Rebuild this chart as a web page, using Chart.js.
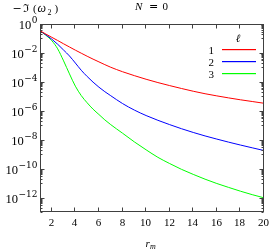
<!DOCTYPE html>
<html>
<head>
<meta charset="utf-8">
<script src="https://cdn.jsdelivr.net/npm/chart.js@4/dist/chart.umd.min.js"></script>
<style>
html,body{margin:0;padding:0;background:#fff;}
canvas{display:block;}
</style>
</head>
<body>
<canvas id="c" width="271" height="250"></canvas>
<script>
// ---- data ----
const rm = [1, 1.5, 2, 2.5, 3, 3.5, 4, 4.5, 5, 5.5, 6, 6.5, 7, 8, 9, 10, 11, 12, 13, 14, 15, 16, 17, 18, 19, 20];
const ell1 = [0.339, 0.200, 0.120, 0.0724, 0.0427, 0.0257, 0.0155, 0.00955, 0.00589, 0.00372, 0.00240, 0.00155,
  1.02e-3, 5.01e-4, 2.69e-4, 1.51e-4, 8.91e-5, 5.50e-5, 3.47e-5, 2.24e-5, 1.51e-5, 1.07e-5, 7.76e-6, 5.75e-6, 4.37e-6, 3.31e-6];
const ell2 = [0.339, 0.178, 0.0891, 0.0398, 0.0158, 6.17e-3, 2.0e-3, 6.31e-4, 2.34e-4, 9.55e-5, 4.27e-5, 2.09e-5,
  1.10e-5, 3.16e-6, 1.12e-6, 4.68e-7, 2.19e-7, 1.10e-7, 5.75e-8, 3.16e-8, 1.82e-8, 1.10e-8, 6.76e-9, 4.27e-9, 2.75e-9, 1.78e-9];
const ell3 = [0.339, 0.166, 0.0708, 0.0191, 2.82e-3, 3.55e-4, 5.01e-5, 1.12e-5, 3.55e-6, 1.29e-6, 5.50e-7, 2.34e-7,
  1.10e-7, 2.82e-8, 7.08e-9, 2.0e-9, 6.03e-10, 2.24e-10, 8.91e-11, 3.98e-11, 1.86e-11, 9.33e-12, 5.01e-12, 2.75e-12, 1.58e-12, 9.55e-13];
const seriesLabels = ['1', '2', '3'];
const seriesColors = ['#ff0000', '#0000ff', '#00ff00'];
const xTickValues = [2, 4, 6, 8, 10, 12, 14, 16, 18, 20];
const yTickExponents = [0, -2, -4, -6, -8, -10, -12];
const xRange = [1, 20];
const yRange = [1e-13, 1];

const SERIF = '"Liberation Serif", "DejaVu Serif", serif';
const DSERIF = '"DejaVu Serif", "Liberation Serif", serif';

function pts(ys) { return rm.map((x, i) => ({x: x, y: ys[i]})); }

const decor = {
  id: 'decor',
  afterDraw(chart) {
    const ctx = chart.ctx;
    const a = chart.chartArea;
    const xs = chart.scales.x, ys = chart.scales.y;
    const L = Math.round(a.left) + 0.5, R = Math.round(a.right) - 0.5;
    const T = Math.round(a.top) + 0.5, B = Math.round(a.bottom) - 0.5;
    ctx.save();
    ctx.strokeStyle = '#404040';
    ctx.lineWidth = 1;
    ctx.strokeRect(L, T, R - L, B - T);
    // x ticks
    ctx.fillStyle = '#000';
    ctx.font = '11px ' + SERIF;
    ctx.textAlign = 'center';
    ctx.textBaseline = 'middle';
    xTickValues.forEach(v => {
      const px = Math.round(xs.getPixelForValue(v)) - 0.5;
      ctx.beginPath();
      ctx.moveTo(px, B); ctx.lineTo(px, B - 4);
      ctx.moveTo(px, T); ctx.lineTo(px, T + 4);
      ctx.stroke();
      ctx.fillText(String(v), px, 223);
    });
    // y minor ticks
    yTickExponents.forEach(e => {
      for (let k = 1; k <= 9; k++) {
        const v = k * Math.pow(10, e - 1);
        if (v < yRange[0] || v > yRange[1]) continue;
        const py = Math.round(ys.getPixelForValue(v)) + 0.5;
        ctx.beginPath();
        ctx.moveTo(L, py); ctx.lineTo(L + 2, py);
        ctx.moveTo(R, py); ctx.lineTo(R - 2, py);
        ctx.stroke();
      }
    });
    // y major ticks + labels
    ctx.textAlign = 'left';
    ctx.textBaseline = 'alphabetic';
    yTickExponents.forEach(e => {
      const v = Math.pow(10, e);
      const py = Math.round(ys.getPixelForValue(v)) + 0.5;
      ctx.beginPath();
      ctx.moveTo(L, py); ctx.lineTo(L + 4, py);
      ctx.moveTo(R, py); ctx.lineTo(R - 4, py);
      ctx.stroke();
      const exp = e === 0 ? '0' : '\u2212' + String(-e);
      ctx.font = '9px ' + DSERIF;
      const ew = ctx.measureText(exp).width;
      ctx.font = '12.5px ' + SERIF;
      const bw = ctx.measureText('10').width;
      const right = 37.5;
      ctx.fillText('10', right - ew - bw - 0.5, py + 4);
      ctx.font = '9px ' + DSERIF;
      ctx.fillText(exp, right - ew, py - 2);
    });
    // top-left label  −ℑ(ω2)
    const yb = 12;
    ctx.font = '11px ' + DSERIF;
    ctx.fillText('\u2212', 12.5, yb);
    ctx.fillText('\u2111', 23, yb);
    ctx.font = '11px ' + SERIF;
    ctx.fillText('(', 33, yb);
    ctx.font = 'italic 12px ' + SERIF;
    ctx.fillText('\u03c9', 37.5, yb);
    ctx.font = '8px ' + SERIF;
    ctx.fillText('2', 47.5, yb + 2.5);
    ctx.font = '11px ' + SERIF;
    ctx.fillText(')', 54.5, yb);
    // title N = 0
    ctx.font = 'italic 11px ' + SERIF;
    ctx.fillText('N', 135, 10);
    ctx.font = '11px ' + DSERIF;
    ctx.fillText('=', 149, 10);
    ctx.font = '11px ' + SERIF;
    ctx.fillText('0', 162.5, 10);
    // x axis title r_m
    ctx.font = 'italic 11px ' + SERIF;
    ctx.fillText('r', 145.5, 247);
    ctx.font = 'italic 8px ' + SERIF;
    ctx.fillText('m', 150, 249);
    // legend
    ctx.fillStyle = '#000';
    ctx.font = 'italic 11px ' + SERIF;
    ctx.textAlign = 'center';
    ctx.fillText('\u2113', 238, 42);
    ctx.font = '11px ' + SERIF;
    ctx.textAlign = 'right';
    const ly = [49, 61, 73];
    for (let i = 0; i < seriesLabels.length; i++) {
      ctx.fillStyle = '#000';
      ctx.fillText(seriesLabels[i], 214, ly[i] + 4.5);
      ctx.fillStyle = seriesColors[i];
      ctx.fillRect(222, ly[i], 34, 1.2);
    }
    ctx.restore();
  }
};

new Chart(document.getElementById('c'), {
  type: 'line',
  data: {
    datasets: [0, 1, 2].map(i => ({
      label: seriesLabels[i],
      data: pts([ell1, ell2, ell3][i]),
      borderColor: seriesColors[i],
      backgroundColor: seriesColors[i],
      borderWidth: 1,
      pointRadius: 0,
      fill: false,
      cubicInterpolationMode: 'monotone'
    }))
  },
  options: {
    responsive: false,
    animation: false,
    devicePixelRatio: 1,
    layout: {padding: {left: 40, right: 7, top: 24, bottom: 38}},
    plugins: {legend: {display: false}, tooltip: {enabled: false}, title: {display: false}},
    scales: {
      x: {type: 'linear', min: xRange[0], max: xRange[1], display: false},
      y: {type: 'logarithmic', min: yRange[0], max: yRange[1], display: false}
    }
  },
  plugins: [decor]
});
</script>
</body>
</html>
